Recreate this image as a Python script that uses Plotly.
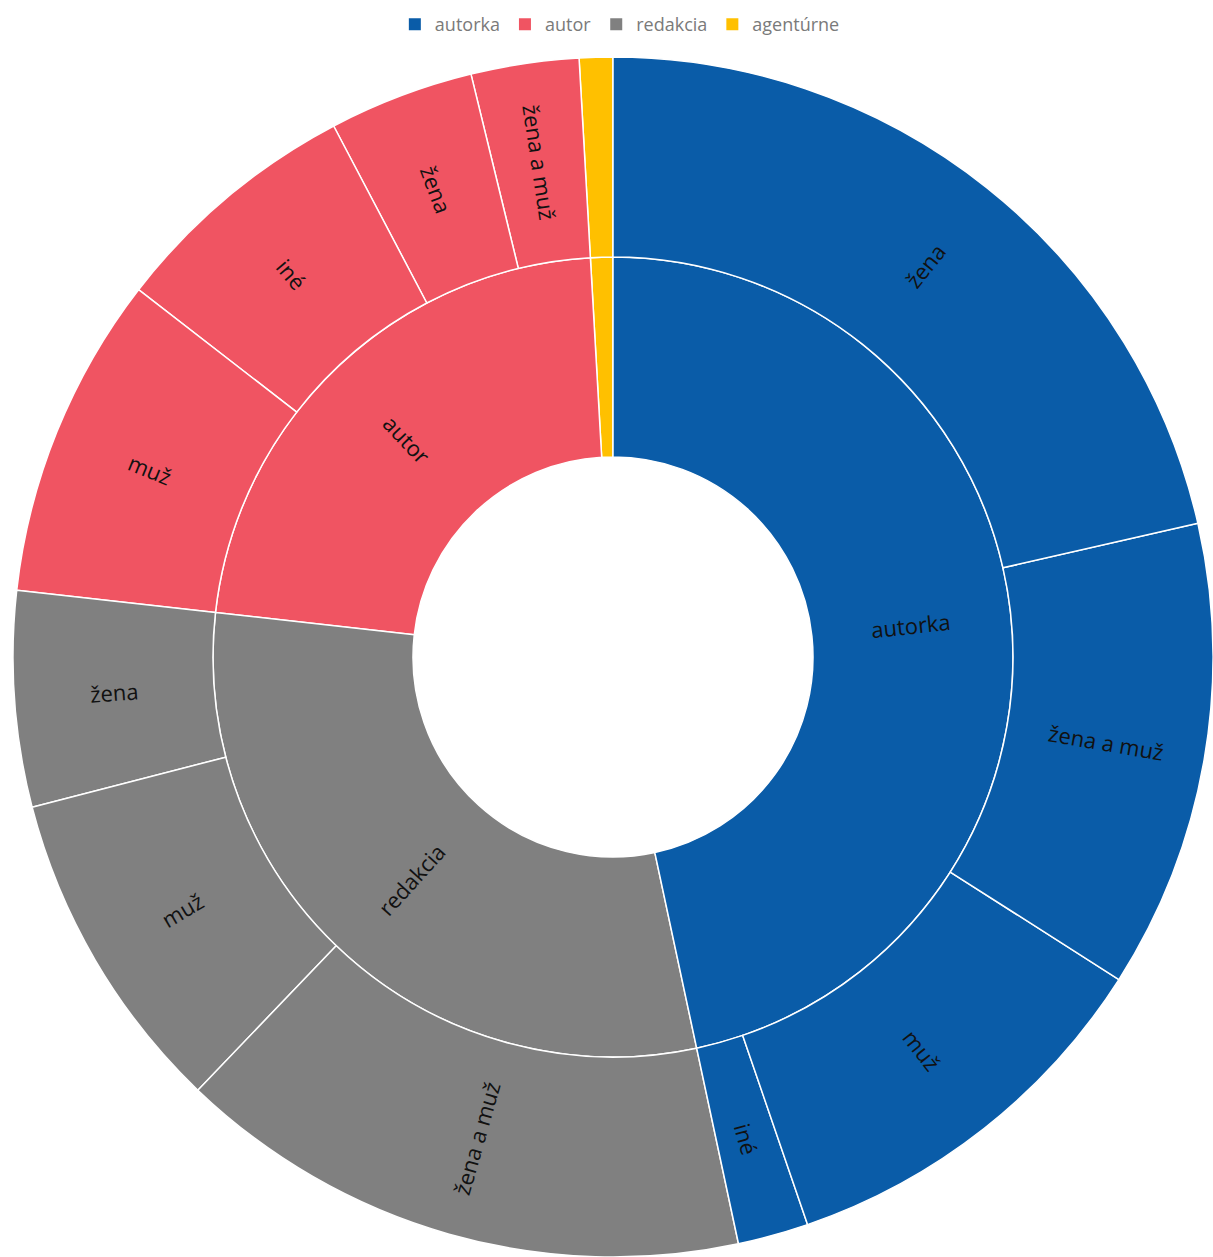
import math
import plotly.graph_objects as go

# Share of articles by author type (inner ring) and by gender of the people shown (outer ring), in %
categories = ["autorka", "autor", "redakcia", "agentúrne"]
colors = {"autorka": "#0A5CA8", "autor": "#F05462", "redakcia": "#808080", "agentúrne": "#FFC000"}

# Children listed clockwise from the top, largest first
sub_labels = {
    "autorka": ["žena", "žena a muž", "muž", "iné"],
    "redakcia": ["žena a muž", "muž", "žena"],
    "autor": ["muž", "iné", "žena", "žena a muž"],
    "agentúrne": [""],
}
sub_values = {
    "autorka": [21.4, 12.6, 10.7, 1.9],
    "redakcia": [15.5, 8.8, 5.8],
    "autor": [8.7, 6.8, 3.9, 2.9],
    "agentúrne": [0.9],
}
ring_order = ["autorka", "redakcia", "autor", "agentúrne"]

# A blank root node leaves the white hole in the middle
ids, labels, parents, values, node_colors = ["root"], [""], [""], [0.0], ["white"]

# Plotly lays sectors out counter-clockwise, so feed them in reverse
for cat in reversed(ring_order):
    cat_total = round(sum(sub_values[cat]), 2)
    ids.append(cat)
    labels.append(cat)
    parents.append("root")
    values.append(cat_total)
    node_colors.append(colors[cat])
    values[0] += cat_total
    for lab, val in reversed(list(zip(sub_labels[cat], sub_values[cat]))):
        ids.append(f"{cat}/{lab}")
        labels.append(lab)
        parents.append(cat)
        values.append(val)
        node_colors.append(colors[cat])
values[0] = round(values[0], 2)
grand_total = values[0]

fig = go.Figure()
fig.add_trace(go.Sunburst(
    ids=ids,
    labels=labels,
    parents=parents,
    values=values,
    branchvalues="total",
    sort=False,
    rotation=90,
    textinfo="none",
    marker=dict(colors=node_colors, line=dict(color="white", width=1.5)),
    leaf=dict(opacity=1),
    hoverinfo="label+value",
))


# Sector labels: written along the radius through the middle of each sector
def radial_label(text, start, value, ring_mid):
    mid = (start + value / 2) / grand_total * 2 * math.pi  # clockwise from 12 o'clock
    angle = math.degrees(mid) - 90
    if angle > 90:
        angle -= 180
    fig.add_annotation(
        x=0.5 + ring_mid * math.sin(mid), y=0.5 + ring_mid * math.cos(mid),
        xref="paper", yref="paper", text=text, showarrow=False,
        textangle=angle, xanchor="center", yanchor="middle",
        font=dict(family="Open Sans", size=22, color="#111111"),
    )


inner_mid, outer_mid = 0.25, 0.5 * 5 / 6
pos = 0.0
for cat in ring_order:
    cat_total = sum(sub_values[cat])
    if cat != "agentúrne":
        radial_label(cat, pos, cat_total, inner_mid)
    child_pos = pos
    for lab, val in zip(sub_labels[cat], sub_values[cat]):
        if lab:
            radial_label(lab, child_pos, val, outer_mid)
        child_pos += val
    pos += cat_total

# Legend entries for the four author types
for cat in categories:
    fig.add_trace(go.Scatter(
        x=[None], y=[None], mode="markers", name=cat,
        marker=dict(symbol="square", size=12, color=colors[cat]),
        showlegend=True,
    ))

fig.update_layout(
    width=1213,
    height=1257,
    margin=dict(l=13, r=0, t=57, b=0),
    paper_bgcolor="white",
    plot_bgcolor="white",
    xaxis=dict(visible=False),
    yaxis=dict(visible=False),
    legend=dict(
        orientation="h",
        xref="container", yref="container",
        x=0.511, xanchor="center",
        y=1 - 6 / 1257, yanchor="top",
        font=dict(family="Open Sans", size=18, color="#7a7a7a"),
        itemwidth=30,
        traceorder="normal",
    ),
)

fig.write_html("out.html")
